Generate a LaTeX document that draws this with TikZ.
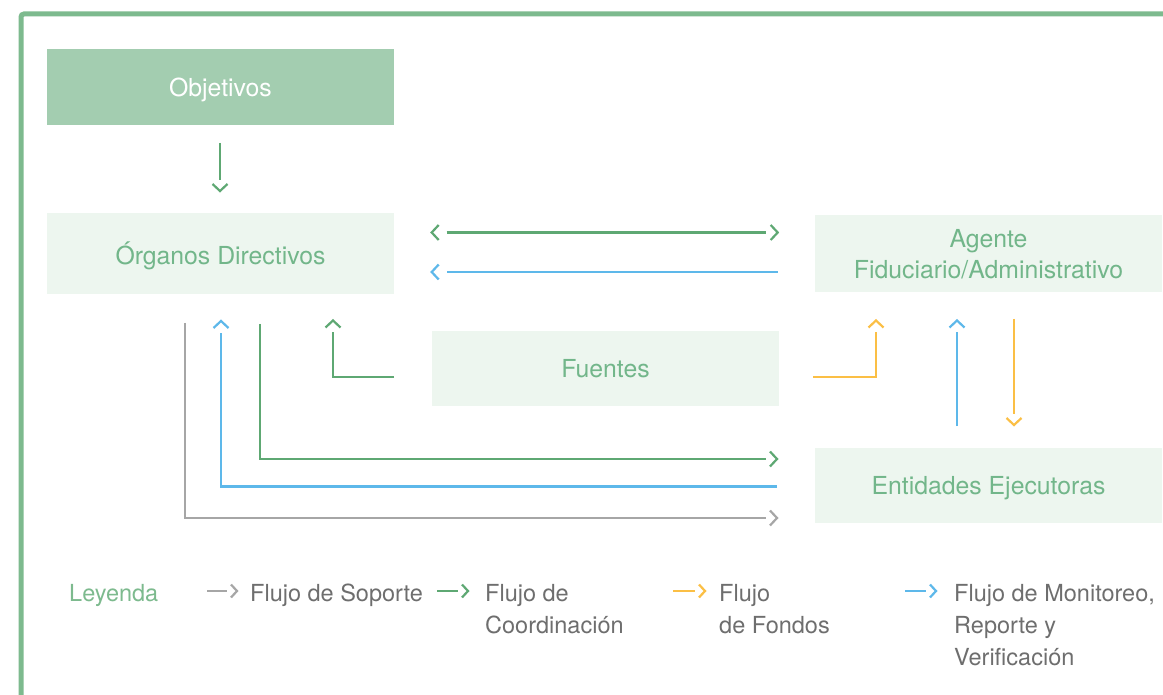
\documentclass[tikz,border=0pt]{standalone}
\usepackage{fontspec}
\setmainfont{TeX Gyre Heros}
\definecolor{framegreen}{HTML}{7DBA8E}
\definecolor{darkfill}{HTML}{A3CDB0}
\definecolor{lightfill}{HTML}{EDF6EF}
\definecolor{boxtext}{HTML}{72B68A}
\definecolor{greenline}{HTML}{5EA873}
\definecolor{blueline}{HTML}{5DB8EA}
\definecolor{yellowline}{HTML}{FBBF45}
\definecolor{grayline}{HTML}{A6A6A6}
\definecolor{graytext}{HTML}{6E6E6E}
\begin{document}
\begin{tikzpicture}[x=1pt,y=-1pt,
  boxbase/.style={minimum width=347pt, inner sep=0pt, align=center, text depth=0pt,
    font=\fontsize{24.8}{31}\selectfont},
  boxdark/.style={boxbase, fill=darkfill, text=white},
  boxlight/.style={boxbase, fill=lightfill, text=boxtext},
  flow/.style={line width=2.2pt},
  chev/.pic={\draw[line width=2.2pt] (-7,7.5) -- (0,0) -- (-7,-7.5);},
  chevsmall/.pic={\draw[line width=2.2pt] (-6,6.5) -- (0,0) -- (-6,-6.5);},
  legtext/.style={anchor=base west, inner sep=0pt, align=left, text=graytext,
    font=\fontsize{23.5}{32}\selectfont},
]
\useasboundingbox (0,0) rectangle (1163,695);
\fill[white] (0,0) rectangle (1163,695);
% frame
\draw[framegreen, line width=5pt, rounded corners=3pt] (21,700) -- (21,14) -- (1170,14);

% boxes
\node[boxdark, minimum height=76pt] (obj) at (220.5,87) {Objetivos};
\node[boxlight, minimum height=81pt] (org) at (220.5,253.5) {Órganos Directivos};
\node[boxlight, minimum height=77pt] (age) at (988.5,253.5) {Agente\\Fiduciario/Administrativo};
\node[boxlight, minimum height=75pt] (fue) at (605.5,368.5) {Fuentes};
\node[boxlight, minimum height=75pt] (ent) at (988.5,485.5) {Entidades Ejecutoras};

% coordinates
\coordinate (o1) at (220,143); \coordinate (o2) at (220,180); \coordinate (o3) at (220,191);
\coordinate (c1) at (446.7,232.5); \coordinate (c2) at (766,232.5);
\coordinate (c1t) at (431.7,232.5); \coordinate (c2t) at (777.7,232.5);
\coordinate (m1) at (777.7,272); \coordinate (m2) at (446.7,272); \coordinate (m2t) at (431.7,272);
\coordinate (g1) at (185,323); \coordinate (g2) at (185,518); \coordinate (g3) at (766,518); \coordinate (g3t) at (777,518);
\coordinate (b1) at (777,486.5); \coordinate (b2) at (221,486.5); \coordinate (b3) at (221,333); \coordinate (b3t) at (221,321);
\coordinate (k1) at (260,324); \coordinate (k2) at (260,459); \coordinate (k3) at (766,459); \coordinate (k3t) at (777,459);
\coordinate (s1) at (394,377); \coordinate (s2) at (333,377); \coordinate (s3) at (333,332); \coordinate (s3t) at (333,320.5);
\coordinate (y1) at (813,377); \coordinate (y2) at (876,377); \coordinate (y3) at (876,332); \coordinate (y3t) at (876,320.5);
\coordinate (v1) at (957,426); \coordinate (v2) at (957,332); \coordinate (v2t) at (957,320.5);
\coordinate (d1) at (1014,319); \coordinate (d2) at (1014,414); \coordinate (d2t) at (1014,425);

% connectors
\draw[flow, greenline] (o1) -- (o2);
\pic[color=greenline, rotate=-90] at (o3) {chev};
\draw[flow, greenline] (c1) -- (c2);
\pic[color=greenline, rotate=180] at (c1t) {chev};
\pic[color=greenline] at (c2t) {chev};
\draw[flow, blueline] (m1) -- (m2);
\pic[color=blueline, rotate=180] at (m2t) {chev};
\draw[flow, grayline] (g1) -- (g2) -- (g3);
\pic[color=grayline] at (g3t) {chev};
\draw[flow, blueline] (b1) -- (b2) -- (b3);
\pic[color=blueline, rotate=90] at (b3t) {chev};
\draw[flow, greenline] (k1) -- (k2) -- (k3);
\pic[color=greenline] at (k3t) {chev};
\draw[flow, greenline] (s1) -- (s2) -- (s3);
\pic[color=greenline, rotate=90] at (s3t) {chev};
\draw[flow, yellowline] (y1) -- (y2) -- (y3);
\pic[color=yellowline, rotate=90] at (y3t) {chev};
\draw[flow, blueline] (v1) -- (v2);
\pic[color=blueline, rotate=90] at (v2t) {chev};
\draw[flow, yellowline] (d1) -- (d2);
\pic[color=yellowline, rotate=-90] at (d2t) {chev};

% legend (multi-line nodes are placed by the baseline of their last line)
\node[legtext, text=framegreen] (ley) at (69,601.5) {Leyenda};
\coordinate (l1a) at (207,591); \coordinate (l1b) at (227,591); \coordinate (l1t) at (237,591);
\draw[flow, grayline] (l1a) -- (l1b);
\pic[color=grayline] at (l1t) {chevsmall};
\node[legtext] (lsop) at (250,601.5) {Flujo de Soporte};
\coordinate (l2a) at (437,591); \coordinate (l2b) at (458,591); \coordinate (l2t) at (468,591);
\draw[flow, greenline] (l2a) -- (l2b);
\pic[color=greenline] at (l2t) {chevsmall};
\node[legtext] (lcoo) at (485,633.5) {Flujo de\\Coordinación};
\coordinate (l3a) at (673,591); \coordinate (l3b) at (695,591); \coordinate (l3t) at (705,591);
\draw[flow, yellowline] (l3a) -- (l3b);
\pic[color=yellowline] at (l3t) {chevsmall};
\node[legtext] (lfon) at (719,633.5) {Flujo\\de Fondos};
\coordinate (l4a) at (905,591); \coordinate (l4b) at (926,591); \coordinate (l4t) at (936,591);
\draw[flow, blueline] (l4a) -- (l4b);
\pic[color=blueline] at (l4t) {chevsmall};
\node[legtext] (lmon) at (954,665.5) {Flujo de Monitoreo,\\Reporte y\\Verificación};
\end{tikzpicture}
\end{document}
